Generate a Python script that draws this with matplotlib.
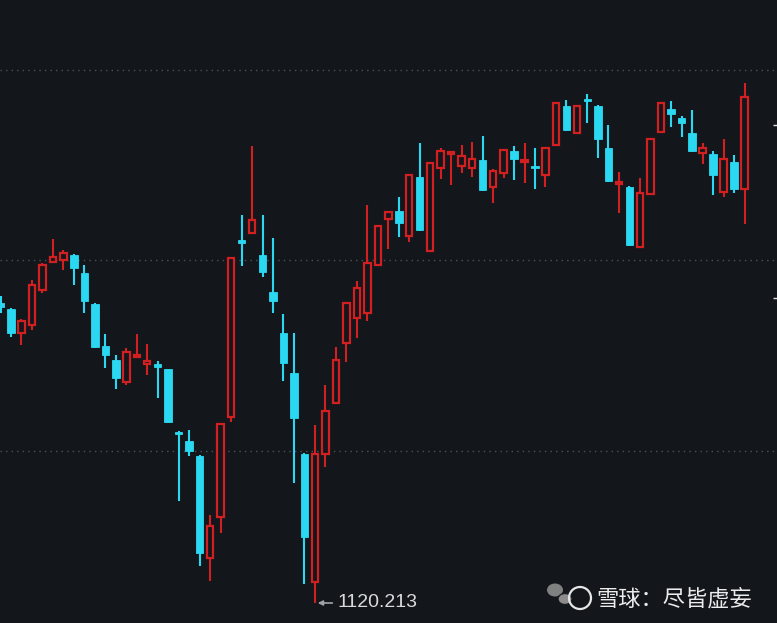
import matplotlib
matplotlib.use("Agg")
import matplotlib.pyplot as plt
from matplotlib.patches import Rectangle, Ellipse

# OHLC (grid lines = 1200 / 1300 / 1400)
opens = [1277.7, 1274.5, 1261.9, 1266.1, 1284.5, 1299.2, 1300.3, 1302.9, 1293.4, 1277.2,
         1255.1, 1247.8, 1236.2, 1249.3, 1245.7, 1245.7, 1243.0, 1210.0, 1205.2, 1197.4,
         1143.8, 1165.4, 1217.8, 1310.8, 1314.4, 1302.9, 1283.5, 1261.9, 1240.9, 1198.4,
         1131.2, 1198.4, 1225.2, 1256.7, 1269.8, 1272.4, 1297.6, 1321.8, 1326.0, 1312.9,
         1343.8, 1305.0, 1348.6, 1355.9, 1349.6, 1348.6, 1352.8, 1338.6, 1345.9, 1357.5,
         1351.7, 1349.6, 1344.9, 1360.6, 1381.1, 1366.9, 1384.8, 1381.1, 1359.1, 1340.2,
         1338.6, 1307.1, 1334.9, 1367.5, 1379.5, 1374.8, 1366.9, 1356.4, 1355.9, 1336.0,
         1351.7, 1337.5]
highs = [1281.4, 1275.1, 1269.3, 1289.8, 1298.7, 1311.3, 1305.5, 1303.2, 1297.6, 1277.6,
         1261.4, 1250.4, 1254.1, 1261.4, 1256.2, 1247.2, 1243.3, 1210.3, 1211.0, 1197.7,
         1166.4, 1214.5, 1301.6, 1323.9, 1360.1, 1323.9, 1311.8, 1271.9, 1261.9, 1198.7,
         1213.6, 1234.6, 1254.6, 1278.0, 1289.2, 1329.1, 1318.4, 1325.8, 1333.3, 1345.2,
         1361.7, 1351.5, 1359.1, 1357.2, 1360.6, 1362.2, 1365.4, 1348.0, 1358.3, 1360.1,
         1361.7, 1359.1, 1359.4, 1383.0, 1384.3, 1381.4, 1387.4, 1381.4, 1371.1, 1346.5,
         1338.9, 1343.3, 1364.1, 1383.0, 1383.7, 1375.9, 1379.0, 1361.7, 1357.5, 1363.8,
         1355.4, 1393.2]
lows = [1272.4, 1259.8, 1255.6, 1263.5, 1282.9, 1298.7, 1295.0, 1287.1, 1272.4, 1254.2,
        1243.6, 1232.5, 1234.6, 1248.8, 1239.9, 1227.8, 1214.7, 1173.8, 1197.4, 1139.6,
        1131.8, 1157.0, 1215.2, 1297.1, 1314.0, 1291.3, 1272.4, 1236.7, 1183.2, 1130.2,
        1120.213, 1191.6, 1224.9, 1246.7, 1259.3, 1268.2, 1297.3, 1306.0, 1312.3, 1309.7,
        1315.7, 1304.5, 1342.8, 1339.6, 1345.9, 1343.8, 1336.7, 1330.2, 1343.3, 1342.3,
        1340.7, 1337.5, 1338.6, 1360.3, 1368.0, 1366.6, 1372.2, 1353.8, 1341.4, 1324.9,
        1307.8, 1306.6, 1334.6, 1367.2, 1370.1, 1364.8, 1357.0, 1350.7, 1334.4, 1333.3,
        1335.4, 1319.2]
closes = [1275.6, 1261.9, 1268.2, 1287.1, 1297.6, 1301.8, 1303.9, 1296.1, 1278.7, 1254.6,
          1250.4, 1238.3, 1252.0, 1250.4, 1247.2, 1244.1, 1215.2, 1208.9, 1200.0, 1146.5,
          1160.6, 1214.2, 1301.3, 1309.2, 1321.3, 1294.0, 1278.7, 1246.2, 1217.3, 1154.9,
          1198.4, 1221.0, 1247.8, 1277.7, 1285.6, 1298.7, 1318.1, 1325.5, 1319.7, 1344.9,
          1316.0, 1351.2, 1357.5, 1357.0, 1354.9, 1353.3, 1337.0, 1347.0, 1358.0, 1353.3,
          1352.8, 1348.6, 1359.1, 1382.7, 1368.5, 1381.1, 1383.7, 1363.8, 1341.7, 1341.2,
          1308.1, 1335.4, 1363.8, 1382.7, 1376.9, 1372.2, 1357.5, 1359.1, 1344.9, 1353.3,
          1337.5, 1385.8]

grid_levels = [1200, 1300, 1400]
right_ticks = [1280.3, 1371.1]
low_label = "1120.213"
low_index = 30
watermark = "雪球：尽皆虚妄"

BG = "#13171c"
UP = "#d21f1f"
DOWN = "#2ad8f2"

W, H = 777, 623
fig = plt.figure(figsize=(W / 100, H / 100), dpi=100, facecolor=BG)
ax = fig.add_axes([0, 0, 1, 1])
ax.set_facecolor(BG)

for lvl in grid_levels:
    ax.axhline(lvl, color="#4b525a", lw=1.0, ls=(0, (1, 3)), zorder=0)

for i, (o, h, l, c) in enumerate(zip(opens, highs, lows, closes)):
    if c >= o:
        ax.vlines(i, l, h, color=UP, lw=1.5, zorder=2)
        ax.add_patch(Rectangle((i - 0.31, o), 0.62, c - o, facecolor=BG,
                               edgecolor=UP, lw=1.6, zorder=3))
    else:
        ax.vlines(i, l, h, color=DOWN, lw=1.5, zorder=2)
        ax.add_patch(Rectangle((i - 0.36, c), 0.72, o - c, facecolor=DOWN,
                               edgecolor=DOWN, lw=0.6, zorder=3))

# lowest point label
ax.annotate(low_label, xy=(low_index, lows[low_index]), xytext=(23, 0),
            textcoords="offset pixels", ha="left", va="center",
            fontsize=14, color="#d9dadb", family=["Liberation Sans", "DejaVu Sans"],
            arrowprops=dict(arrowstyle="-|>", color="#a0a4a8", lw=1.2,
                            mutation_scale=7, shrinkA=2, shrinkB=2))

ax.set_xlim(-0.05, W / 10.48 - 0.05)
ax.set_ylim(1200 - 172 / 1.905, 1200 + 451 / 1.905)
for s in ax.spines.values():
    s.set_visible(False)
ax.set_xticks([])
ax.yaxis.tick_right()
ax.set_yticks(right_ticks)
ax.tick_params(axis="y", direction="in", length=3, width=1, colors="#e0e0e0",
               labelright=False)

# thin strip at the right border
fig.patches.append(Rectangle((773 / W, 0), 4 / W, 1, transform=fig.transFigure,
                             facecolor="#1c2127", edgecolor="none", zorder=-1))

# watermark with rough logos
def fx(px):
    return px / W

def fy(py):
    return 1 - py / H

fig.patches.append(Ellipse((fx(555), fy(590)), 16 / W, 13 / H, transform=fig.transFigure,
                           facecolor="#8c8c8c", edgecolor="none", alpha=0.9))
fig.patches.append(Ellipse((fx(565), fy(599)), 14 / W, 11 / H, transform=fig.transFigure,
                           facecolor="#9a9a9a", edgecolor=BG, lw=1, alpha=0.9))
fig.patches.append(Ellipse((fx(580), fy(598)), 22 / W, 22 / H, transform=fig.transFigure,
                           facecolor="none", edgecolor="#e6e6e6", lw=1.6))
fig.text(fx(596), fy(599), watermark, ha="left", va="center", fontsize=16,
         color="#ececec", family=["Noto Sans CJK SC", "DejaVu Sans"])

fig.savefig("out.png", dpi=100, facecolor=BG)
